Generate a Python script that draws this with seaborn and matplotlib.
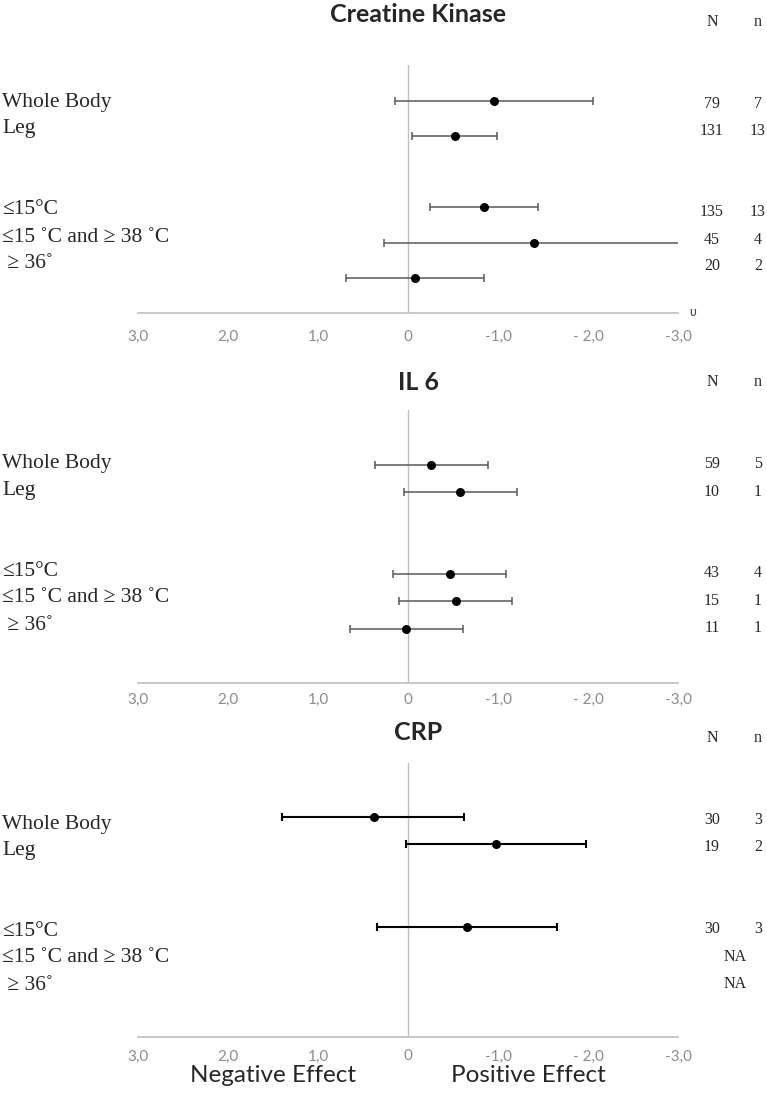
import numpy as np
import pandas as pd
import matplotlib
matplotlib.use("Agg")
from matplotlib import pyplot as plt
import seaborn as sns

sns.set_style("white")

# ---- data ----
groups = ["Whole Body", "Leg", "≤15°C", "≤15 ˚C and ≥ 38 ˚C", " ≥ 36˚"]
outcomes = ["Creatine Kinase", "IL 6", "CRP"]

ck_effect = [-0.96, -0.52, -0.84, -1.40, -0.08]
ck_lower = [0.15, -0.04, -0.24, 0.27, 0.69]
ck_upper = [-2.06, -0.99, -1.44, -3.10, -0.84]
ck_N = ["79", "131", "135", "45", "20"]
ck_n = ["7", "13", "13", "4", "2"]

il6_effect = [-0.26, -0.58, -0.47, -0.53, 0.02]
il6_lower = [0.37, 0.04, 0.17, 0.10, 0.65]
il6_upper = [-0.89, -1.21, -1.09, -1.15, -0.61]
il6_N = ["59", "10", "43", "15", "11"]
il6_n = ["5", "1", "4", "1", "1"]

crp_effect = [0.38, -0.98, -0.66, np.nan, np.nan]
crp_lower = [1.40, 0.02, 0.34, np.nan, np.nan]
crp_upper = [-0.62, -1.98, -1.66, np.nan, np.nan]
crp_N = ["30", "19", "30", "NA", "NA"]
crp_n = ["3", "2", "3", "", ""]

tick_values = [3, 2, 1, 0, -1, -2, -3]
tick_labels = ["3,0", "2,0", "1,0", "0", "-1,0", "- 2,0", "-3,0"]

# ---- layout (pixels of the 767x1095 canvas) ----
W, H = 767, 1095
panels = [
    dict(effect=ck_effect, lower=ck_lower, upper=ck_upper, N=ck_N, n=ck_n,
         top=65, bottom=313, title_y=14, head_y=22, rows=[0, 1, 3, 4, 5],
         ylim=(5.99, -1.02), label_y=[102, 129, 210, 237, 263],
         count_y=[104, 131, 212, 240, 266], color="#595959", lw=1.1, pad=12),
    dict(effect=il6_effect, lower=il6_lower, upper=il6_upper, N=il6_N, n=il6_n,
         top=410, bottom=683, title_y=382, head_y=382, rows=[0, 1, 4, 5, 6],
         ylim=(7.99, -2.01), label_y=[463, 490, 572, 598, 625],
         count_y=[464, 492, 573, 601, 628], color="#595959", lw=1.1, pad=7),
    dict(effect=crp_effect, lower=crp_lower, upper=crp_upper, N=crp_N, n=crp_n,
         top=763, bottom=1037, title_y=733, head_y=738, rows=[0, 1, 4, 5, 6],
         ylim=(8.0, -1.96), label_y=[824, 850, 932, 958, 985],
         count_y=[820, 847, 929, 957, 984], color="black", lw=1.5, pad=9),
]

serif = ["Liberation Serif", "DejaVu Serif"]
sans = ["Lato", "DejaVu Sans"]
grey = "#bfbfbf"


def fx(px):
    return px / W


def fy(px):
    return 1 - px / H


fig = plt.figure(figsize=(W / 100, H / 100), dpi=100)

for title, p in zip(outcomes, panels):
    ax = fig.add_axes([fx(138), fy(p["bottom"]), fx(678) - fx(138),
                       (p["bottom"] - p["top"]) / H])
    df = pd.DataFrame({"group": groups, "row": p["rows"], "effect": p["effect"],
                       "lower": p["lower"], "upper": p["upper"]}).dropna()
    lo = np.minimum(df["lower"], df["upper"])
    hi = np.maximum(df["lower"], df["upper"])

    ax.axvline(0, color=grey, lw=1, zorder=0)
    ax.errorbar(df["effect"], df["row"], xerr=[df["effect"] - lo, hi - df["effect"]],
                fmt="none", ecolor=p["color"], elinewidth=p["lw"], capsize=2.6,
                capthick=p["lw"], zorder=2)
    sns.scatterplot(data=df, x="effect", y="row", color="black", s=42,
                    linewidth=0, ax=ax, zorder=3, legend=False)

    ax.set_xlim(3, -3)
    ax.set_ylim(*p["ylim"])
    ax.set_xticks(tick_values)
    ax.set_xticklabels(tick_labels, fontfamily=sans, fontsize=11, color="#8c8c8c")
    ax.tick_params(axis="x", length=0, pad=p["pad"])
    ax.set_yticks([])
    ax.set_xlabel("")
    ax.set_ylabel("")
    for side in ["left", "top", "right"]:
        ax.spines[side].set_visible(False)
    ax.spines["bottom"].set_color(grey)
    ax.spines["bottom"].set_linewidth(1.2)

    fig.text(fx(418), fy(p["title_y"]), title, ha="center", va="center",
             fontfamily=sans, fontweight="bold", fontsize=18)
    fig.text(fx(712), fy(p["head_y"]), "N", ha="center", va="center",
             fontfamily=serif, fontsize=11.5)
    fig.text(fx(758), fy(p["head_y"]), "n", ha="center", va="center",
             fontfamily=serif, fontsize=11.5)

    for g, y in zip(groups, p["label_y"]):
        fig.text(fx(2), fy(y), g, ha="left", va="center", fontfamily=serif,
                 fontsize=15.5)
    for big, small, y in zip(p["N"], p["n"], p["count_y"]):
        if big == "NA":
            fig.text(fx(735), fy(y), big, ha="center", va="center",
                     fontfamily=serif, fontsize=11.5)
        else:
            fig.text(fx(712), fy(y), big, ha="center", va="center",
                     fontfamily=serif, fontsize=11.5)
            fig.text(fx(758), fy(y), small, ha="center", va="center",
                     fontfamily=serif, fontsize=11.5)

# stray glyph at the end of the first axis
fig.text(fx(693), fy(312), "υ", ha="center", va="center", fontfamily=sans,
         fontsize=9, color="#404040")

fig.text(fx(273), fy(1075), "Negative Effect", ha="center", va="center",
         fontfamily=sans, fontsize=17.5)
fig.text(fx(528), fy(1075), "Positive Effect", ha="center", va="center",
         fontfamily=sans, fontsize=17.5)

fig.savefig("out.png", dpi=100)
